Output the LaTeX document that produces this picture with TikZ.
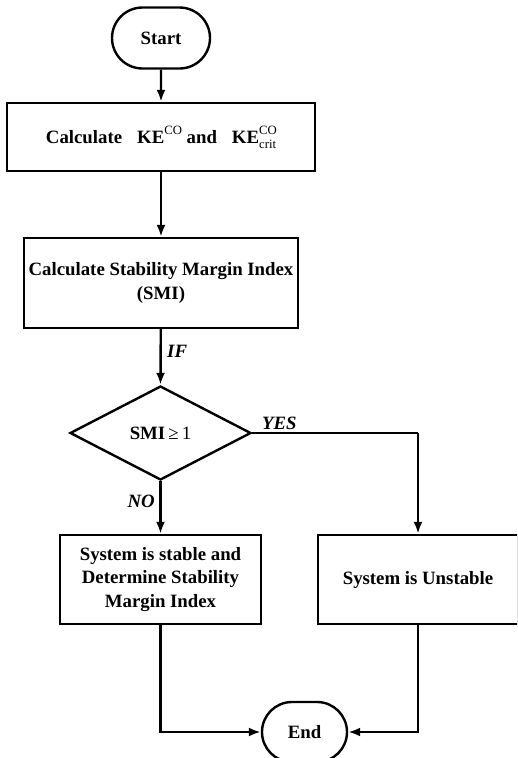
\documentclass[tikz,border=0pt]{standalone}
\usepackage{fontspec}
\setmainfont{Liberation Serif}
\usetikzlibrary{shapes.geometric,shapes.misc,arrows.meta}
\newcommand\smallco{\fontsize{12.7}{13}\selectfont\mdseries}
\newcommand\supCO{\raisebox{9.5pt}{\smallco CO}}
\newcommand\subcrit{\raisebox{-4.5pt}{\smallco crit}}
\tikzset{
  base/.style={draw, line width=2.4pt, align=center, inner sep=2pt,
    font=\fontsize{18.8}{23.5}\selectfont\bfseries},
  term/.style={base, rounded rectangle},
  procbox/.style={base, rectangle},
  decide/.style={base, diamond, inner sep=0pt},
  conn/.style={line width=2.4pt, -{Latex[length=12pt,width=9pt]}},
  plain/.style={line width=2.4pt},
  lbl/.style={font=\fontsize{18.8}{23.5}\selectfont\bfseries\itshape, inner sep=0pt}
}
\begin{document}
\begin{tikzpicture}[x=1pt,y=-1pt]
\useasboundingbox (0,0) rectangle (517,758);
\clip (0,0) rectangle (517,758);
\node[term, minimum width=102pt, minimum height=61pt] (start) at (161,38) {Start};
\node[procbox, minimum width=308pt, minimum height=68pt] (calc) at (161,137)
  {Calculate\hspace{15pt}KE\supCO{} and\hspace{15pt}KE\rlap{\supCO}\subcrit};
\node[procbox, minimum width=274pt, minimum height=90pt] (smi) at (161,283)
  {Calculate Stability Margin Index\\(SMI)};
\node[decide, minimum width=181pt, minimum height=94pt] (dec) at (160.5,433)
  {SMI\,{\mdseries ≥\,1}};
\node[procbox, minimum width=201pt, minimum height=89pt] (stable) at (160.5,579.5)
  {System is stable and\\Determine Stability\\Margin Index};
\node[procbox, minimum width=200pt, minimum height=89pt] (unstable) at (418,579.5)
  {System is Unstable};
\node[term, minimum width=89pt, minimum height=60pt] (end) at (304.5,732) {End};
\coordinate (yescorner) at (418,433);

\draw[conn] (start) -- (calc);
\draw[conn] (calc) -- (smi);
\draw[conn] (smi) -- (dec.north);
\draw[conn] (dec.south) -- (stable);
\draw[plain] (dec.east) -- (yescorner);
\draw[conn] (yescorner) -- (unstable);
\draw[conn] (stable.south) |- (end.west);
\draw[conn] (unstable.south) |- (end.east);

\node[lbl, anchor=west] (iflbl) at (167,351) {IF};
\node[lbl, anchor=west] (yeslbl) at (262,423) {YES};
\node[lbl, anchor=east] (nolbl) at (155,501) {NO};
\end{tikzpicture}
\end{document}
